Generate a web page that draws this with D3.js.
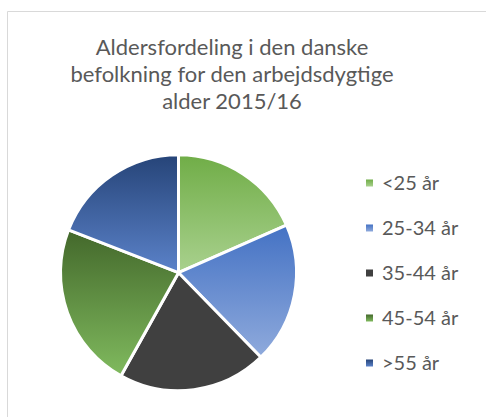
<!DOCTYPE html>
<html>
<head>
<meta charset="utf-8">
<script src="https://cdn.jsdelivr.net/npm/d3@7"></script>
<style>
  body { margin: 0; background: #fff; }
  text { font-family: Lato, "Open Sans", sans-serif; fill: #595959; }
</style>
</head>
<body>
<svg id="chart" width="486" height="417"></svg>
<script>
const titleLines = ["Aldersfordeling i den danske", "befolkning for den arbejdsdygtige", "alder 2015/16"];
const categories = ["<25 år", "25-34 år", "35-44 år", "45-54 år", ">55 år"];
const values = [18.4, 19.3, 20.4, 22.8, 19.1];
// top / bottom colours of each slice gradient
const topColors = ["#70ad47", "#4472c4", "#404040", "#43682b", "#264478"];
const bottomColors = ["#a9d18e", "#8faadc", "#404040", "#80ba5e", "#5b82c9"];

const svg = d3.select("#chart");

// chart area frame (only top and left edges visible)
svg.append("path")
  .attr("d", "M7.5,417 L7.5,11.5 L486,11.5")
  .attr("fill", "none")
  .attr("stroke", "#d9d9d9")
  .attr("stroke-width", 1);

const defs = svg.append("defs");
categories.forEach((c, i) => {
  let g = defs.append("linearGradient")
    .attr("id", "grad" + i)
    .attr("x1", 0).attr("y1", 0).attr("x2", 0).attr("y2", 1);
  g.append("stop").attr("offset", "0%").attr("stop-color", topColors[i]);
  g.append("stop").attr("offset", "100%").attr("stop-color", bottomColors[i]);
});

// title
svg.append("g")
  .selectAll("text")
  .data(titleLines)
  .join("text")
  .attr("x", 232)
  .attr("y", (d, i) => 55 + i * 27)
  .attr("text-anchor", "middle")
  .attr("font-size", 22)
  .text(d => d);

// pie
const cx = 178.5, cy = 272.7, radius = 118;
const pie = d3.pie().sort(null).value(d => d);
const arc = d3.arc().innerRadius(0).outerRadius(radius);

const pieArea = svg.append("g").attr("transform", `translate(${cx},${cy})`);
pieArea.selectAll("path")
  .data(pie(values))
  .join("path")
  .attr("d", arc)
  .attr("fill", (d, i) => `url(#grad${i})`)
  .attr("stroke", "#fff")
  .attr("stroke-width", 3)
  .attr("stroke-linejoin", "round");

// legend
const legendY = d3.scalePoint().domain(categories).range([183, 363]);
const legend = svg.append("g");
const items = legend.selectAll("g")
  .data(categories)
  .join("g")
  .attr("transform", d => `translate(366, ${legendY(d)})`);
items.append("rect")
  .attr("x", 0).attr("y", -3.5)
  .attr("width", 7).attr("height", 7)
  .attr("fill", (d, i) => `url(#grad${i})`);
items.append("text")
  .attr("x", 16)
  .attr("y", 0)
  .attr("dy", "0.36em")
  .attr("font-size", 20)
  .text(d => d);
</script>
</body>
</html>
